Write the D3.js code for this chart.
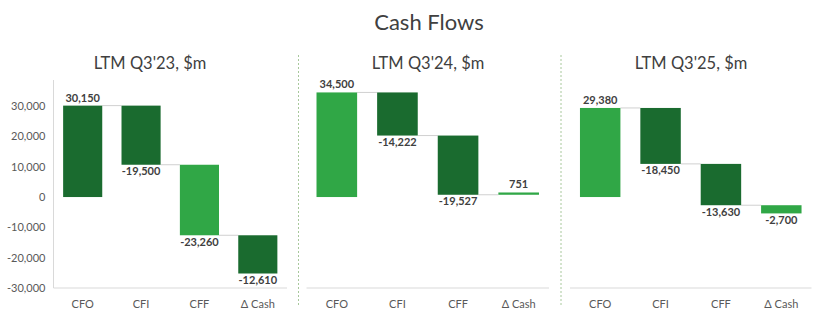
<!DOCTYPE html>
<html><head><meta charset="utf-8">
<script src="https://cdn.jsdelivr.net/npm/d3@7"></script>
<style>
body{margin:0;background:#fff;}
svg{display:block;font-family:Lato, "Open Sans", sans-serif;}
</style></head>
<body><svg id="chart" width="816" height="331"></svg>
<script>
const chartTitle = "Cash Flows";
const panelTitles = ["LTM Q3'23, $m", "LTM Q3'24, $m", "LTM Q3'25, $m"];
const categories = ["CFO", "CFI", "CFF", "Δ Cash"];
const values23 = [30150, -19500, -23260, -12610];
const values24 = [34500, -14222, -19527, 751];
const values25 = [29380, -18450, -13630, -2700];
const shade23 = ["dark", "dark", "light", "dark"];
const shade24 = ["light", "dark", "dark", "light"];
const shade25 = ["light", "dark", "dark", "light"];
const yTicks = [-30000, -20000, -10000, 0, 10000, 20000, 30000];

const series = [values23, values24, values25];
const shades = [shade23, shade24, shade25];
const colors = {dark: "#1a6b2f", light: "#30a746"};
const panelX = [[53.5, 287], [306.5, 549], [570, 811.5]];
const titleCx = [150, 428, 691];

const svg = d3.select("#chart");
const y = d3.scaleLinear().domain([-30000, 38600]).range([288, 80]);
const fmt0 = d3.format(",");
const fmt = v => fmt0(v).replace("\u2212", "-");

svg.append("text").attr("x", 429).attr("y", 30).attr("text-anchor", "middle")
  .attr("font-size", 22).attr("fill", "#404040").text(chartTitle);

// dividers
[298.5, 561].forEach(x => {
  svg.append("line").attr("x1", x).attr("x2", x).attr("y1", 55).attr("y2", 307)
    .attr("stroke", "#a8c89c").attr("stroke-width", 1).attr("stroke-dasharray", "2,2");
});

series.forEach((vals, p) => {
  const g = svg.append("g");
  const x = d3.scaleBand().domain(categories).range(panelX[p]).paddingInner(0.33).paddingOuter(0.165);
  g.append("text").attr("x", titleCx[p]).attr("y", 69).attr("text-anchor", "middle")
    .attr("font-size", 16.5).attr("fill", "#404040").text(panelTitles[p]);

  // waterfall segments; the last (Δ Cash) bar extends from the running total
  let cum = 0;
  const segs = vals.map((v, i) => {
    const start = cum, end = cum + v;
    if (i < vals.length - 1) cum = end;
    return {cat: categories[i], v, start, end, shade: shades[p][i]};
  });

  g.append("line").attr("x1", panelX[p][0]).attr("x2", panelX[p][1])
    .attr("y1", y(-30000)).attr("y2", y(-30000)).attr("stroke", "#d9d9d9").attr("stroke-width", 1);

  if (p === 0) {
    g.append("line").attr("x1", panelX[p][0]).attr("x2", panelX[p][0])
      .attr("y1", y.range()[1]).attr("y2", y(-30000)).attr("stroke", "#d9d9d9");
    const ax = g.append("g").attr("transform", `translate(${panelX[p][0]},0)`)
      .call(d3.axisLeft(y).tickValues(yTicks).tickFormat(fmt).tickSize(0).tickPadding(8));
    ax.select(".domain").remove();
    ax.selectAll("text").attr("font-size", 11).attr("fill", "#595959").attr("font-family", "Lato, sans-serif");
  }

  segs.slice(0, -1).forEach((s, i) => {
    const next = categories[i + 1];
    g.append("line").attr("x1", x(s.cat) + x.bandwidth()).attr("x2", x(next))
      .attr("y1", y(s.end)).attr("y2", y(s.end)).attr("stroke", "#d0d0d0").attr("stroke-width", 1);
  });

  g.selectAll("rect").data(segs).join("rect")
    .attr("x", d => x(d.cat)).attr("width", x.bandwidth())
    .attr("y", d => y(Math.max(d.start, d.end)))
    .attr("height", d => Math.abs(y(d.start) - y(d.end)))
    .attr("fill", d => colors[d.shade]);

  g.selectAll("text.lbl").data(segs).join("text").attr("class", "lbl")
    .attr("x", d => x(d.cat) + x.bandwidth() / 2)
    .attr("y", d => d.v >= 0 ? y(Math.max(d.start, d.end)) - 4 : y(Math.min(d.start, d.end)) + 10.5)
    .attr("text-anchor", "middle").attr("font-size", 11).attr("font-weight", "bold")
    .attr("fill", "#404040").text(d => fmt(d.v));

  g.selectAll("text.cat").data(categories).join("text").attr("class", "cat")
    .attr("x", d => x(d) + x.bandwidth() / 2).attr("y", 308)
    .attr("text-anchor", "middle").attr("font-size", 11).attr("fill", "#595959").text(d => d);
});
</script></body></html>
